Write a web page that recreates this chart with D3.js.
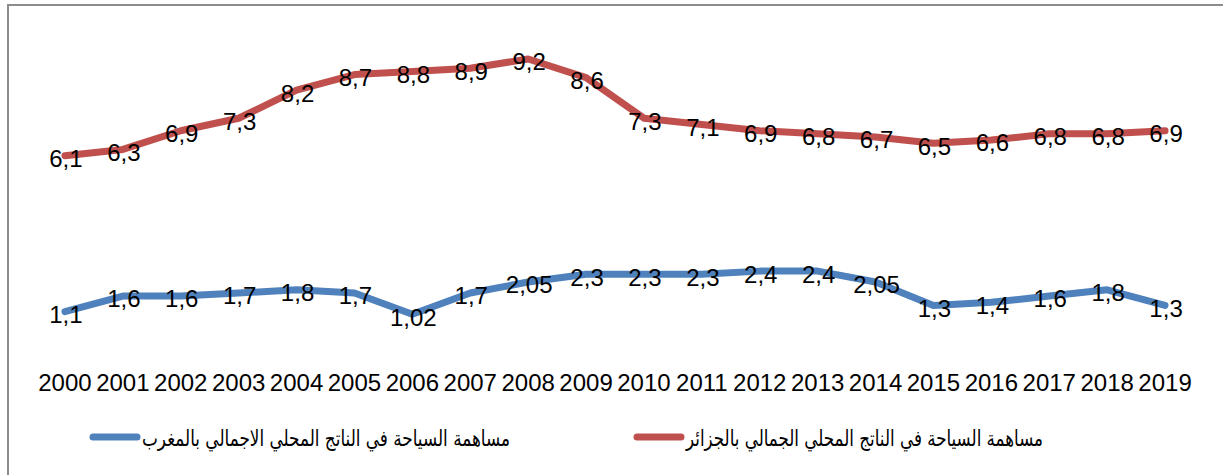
<!DOCTYPE html>
<html>
<head>
<meta charset="utf-8">
<script src="https://cdn.jsdelivr.net/npm/d3@7"></script>
<style>
  body { margin: 0; background: #fff; }
  svg { display: block; }
</style>
</head>
<body>
<div id="chart"></div>
<script>
// datos
const years = ["2000","2001","2002","2003","2004","2005","2006","2007","2008","2009",
  "2010","2011","2012","2013","2014","2015","2016","2017","2018","2019"]
const algeria = [6.1,6.3,6.9,7.3,8.2,8.7,8.8,8.9,9.2,8.6,7.3,7.1,6.9,6.8,6.7,6.5,6.6,6.8,6.8,6.9]
const morocco = [1.1,1.6,1.6,1.7,1.8,1.7,1.02,1.7,2.05,2.3,2.3,2.3,2.4,2.4,2.05,1.3,1.4,1.6,1.8,1.3]
const algeriaName = "مساهمة السياحة في الناتج المحلي الجمالي بالجزائر"
const moroccoName = "مساهمة السياحة في الناتج المحلي الاجمالي بالمغرب"

const ancho = 1223
const alto = 475
const margen = { superior: 34, inferior: 129, izquierdo: 36, derecho: 29 }
const fuente = "'Liberation Sans Narrow', 'Liberation Sans', sans-serif"

const svg = d3.select("#chart").append("svg").attr("width", ancho).attr("height", alto)

// marco (solo arriba e izquierda visibles)
svg.append("path")
  .attr("d", `M8,${alto + 5} V5 H${ancho + 5}`)
  .attr("fill", "none").attr("stroke", "#8c8c8c").attr("stroke-width", 2)

const x = d3.scaleBand().domain(years).range([margen.izquierdo, ancho - margen.derecho])
const y = d3.scaleLinear().domain([0, 10]).range([alto - margen.inferior, margen.superior])
const cx = d => x(d) + x.bandwidth() / 2

// eje x sin linea ni ticks
const ejeX = d3.axisBottom(x).tickSize(0).tickPadding(0)
const grupoX = svg.append("g").attr("transform", `translate(0, 383)`).call(ejeX)
grupoX.select(".domain").remove()
grupoX.selectAll("text")
  .attr("dy", "0.35em")
  .attr("font-family", fuente).attr("font-size", 24).attr("fill", "#000")

const series = [
  { nombre: algeriaName, valores: algeria, color: "#C0504D" },
  { nombre: moroccoName, valores: morocco, color: "#4F81BD" }
]

const linea = d3.line().x((d, i) => cx(years[i])).y(d => y(d))

series.forEach(s => {
  svg.append("path").datum(s.valores)
    .attr("d", linea)
    .attr("fill", "none").attr("stroke", s.color)
    .attr("stroke-width", 7).attr("stroke-linejoin", "round").attr("stroke-linecap", "round")
  svg.append("g").selectAll("text").data(s.valores).enter().append("text")
    .attr("x", (d, i) => cx(years[i]) + 1)
    .attr("y", d => y(d) + 3)
    .attr("dy", "0.35em")
    .attr("text-anchor", "middle")
    .attr("font-family", fuente).attr("font-size", 24).attr("fill", "#000")
    .text(d => String(d).replace(".", ","))
})

// leyenda
const leyenda = [
  { s: series[1], x0: 93, x1: 510 },
  { s: series[0], x0: 637, x1: 1043 }
]
leyenda.forEach(l => {
  const g = svg.append("g")
  g.append("line").attr("x1", l.x0).attr("x2", l.x0 + 44).attr("y1", 437).attr("y2", 437)
    .attr("stroke", l.s.color).attr("stroke-width", 7).attr("stroke-linecap", "round")
  g.append("text").attr("x", l.x1).attr("y", 438).attr("dy", "0.35em")
    .attr("text-anchor", "end")
    .attr("font-family", "'DejaVu Sans', sans-serif").attr("font-size", 22).attr("fill", "#000")
    .attr("textLength", l.x1 - l.x0 - 49).attr("lengthAdjust", "spacingAndGlyphs")
    .text(l.s.nombre)
})
</script>
</body>
</html>
